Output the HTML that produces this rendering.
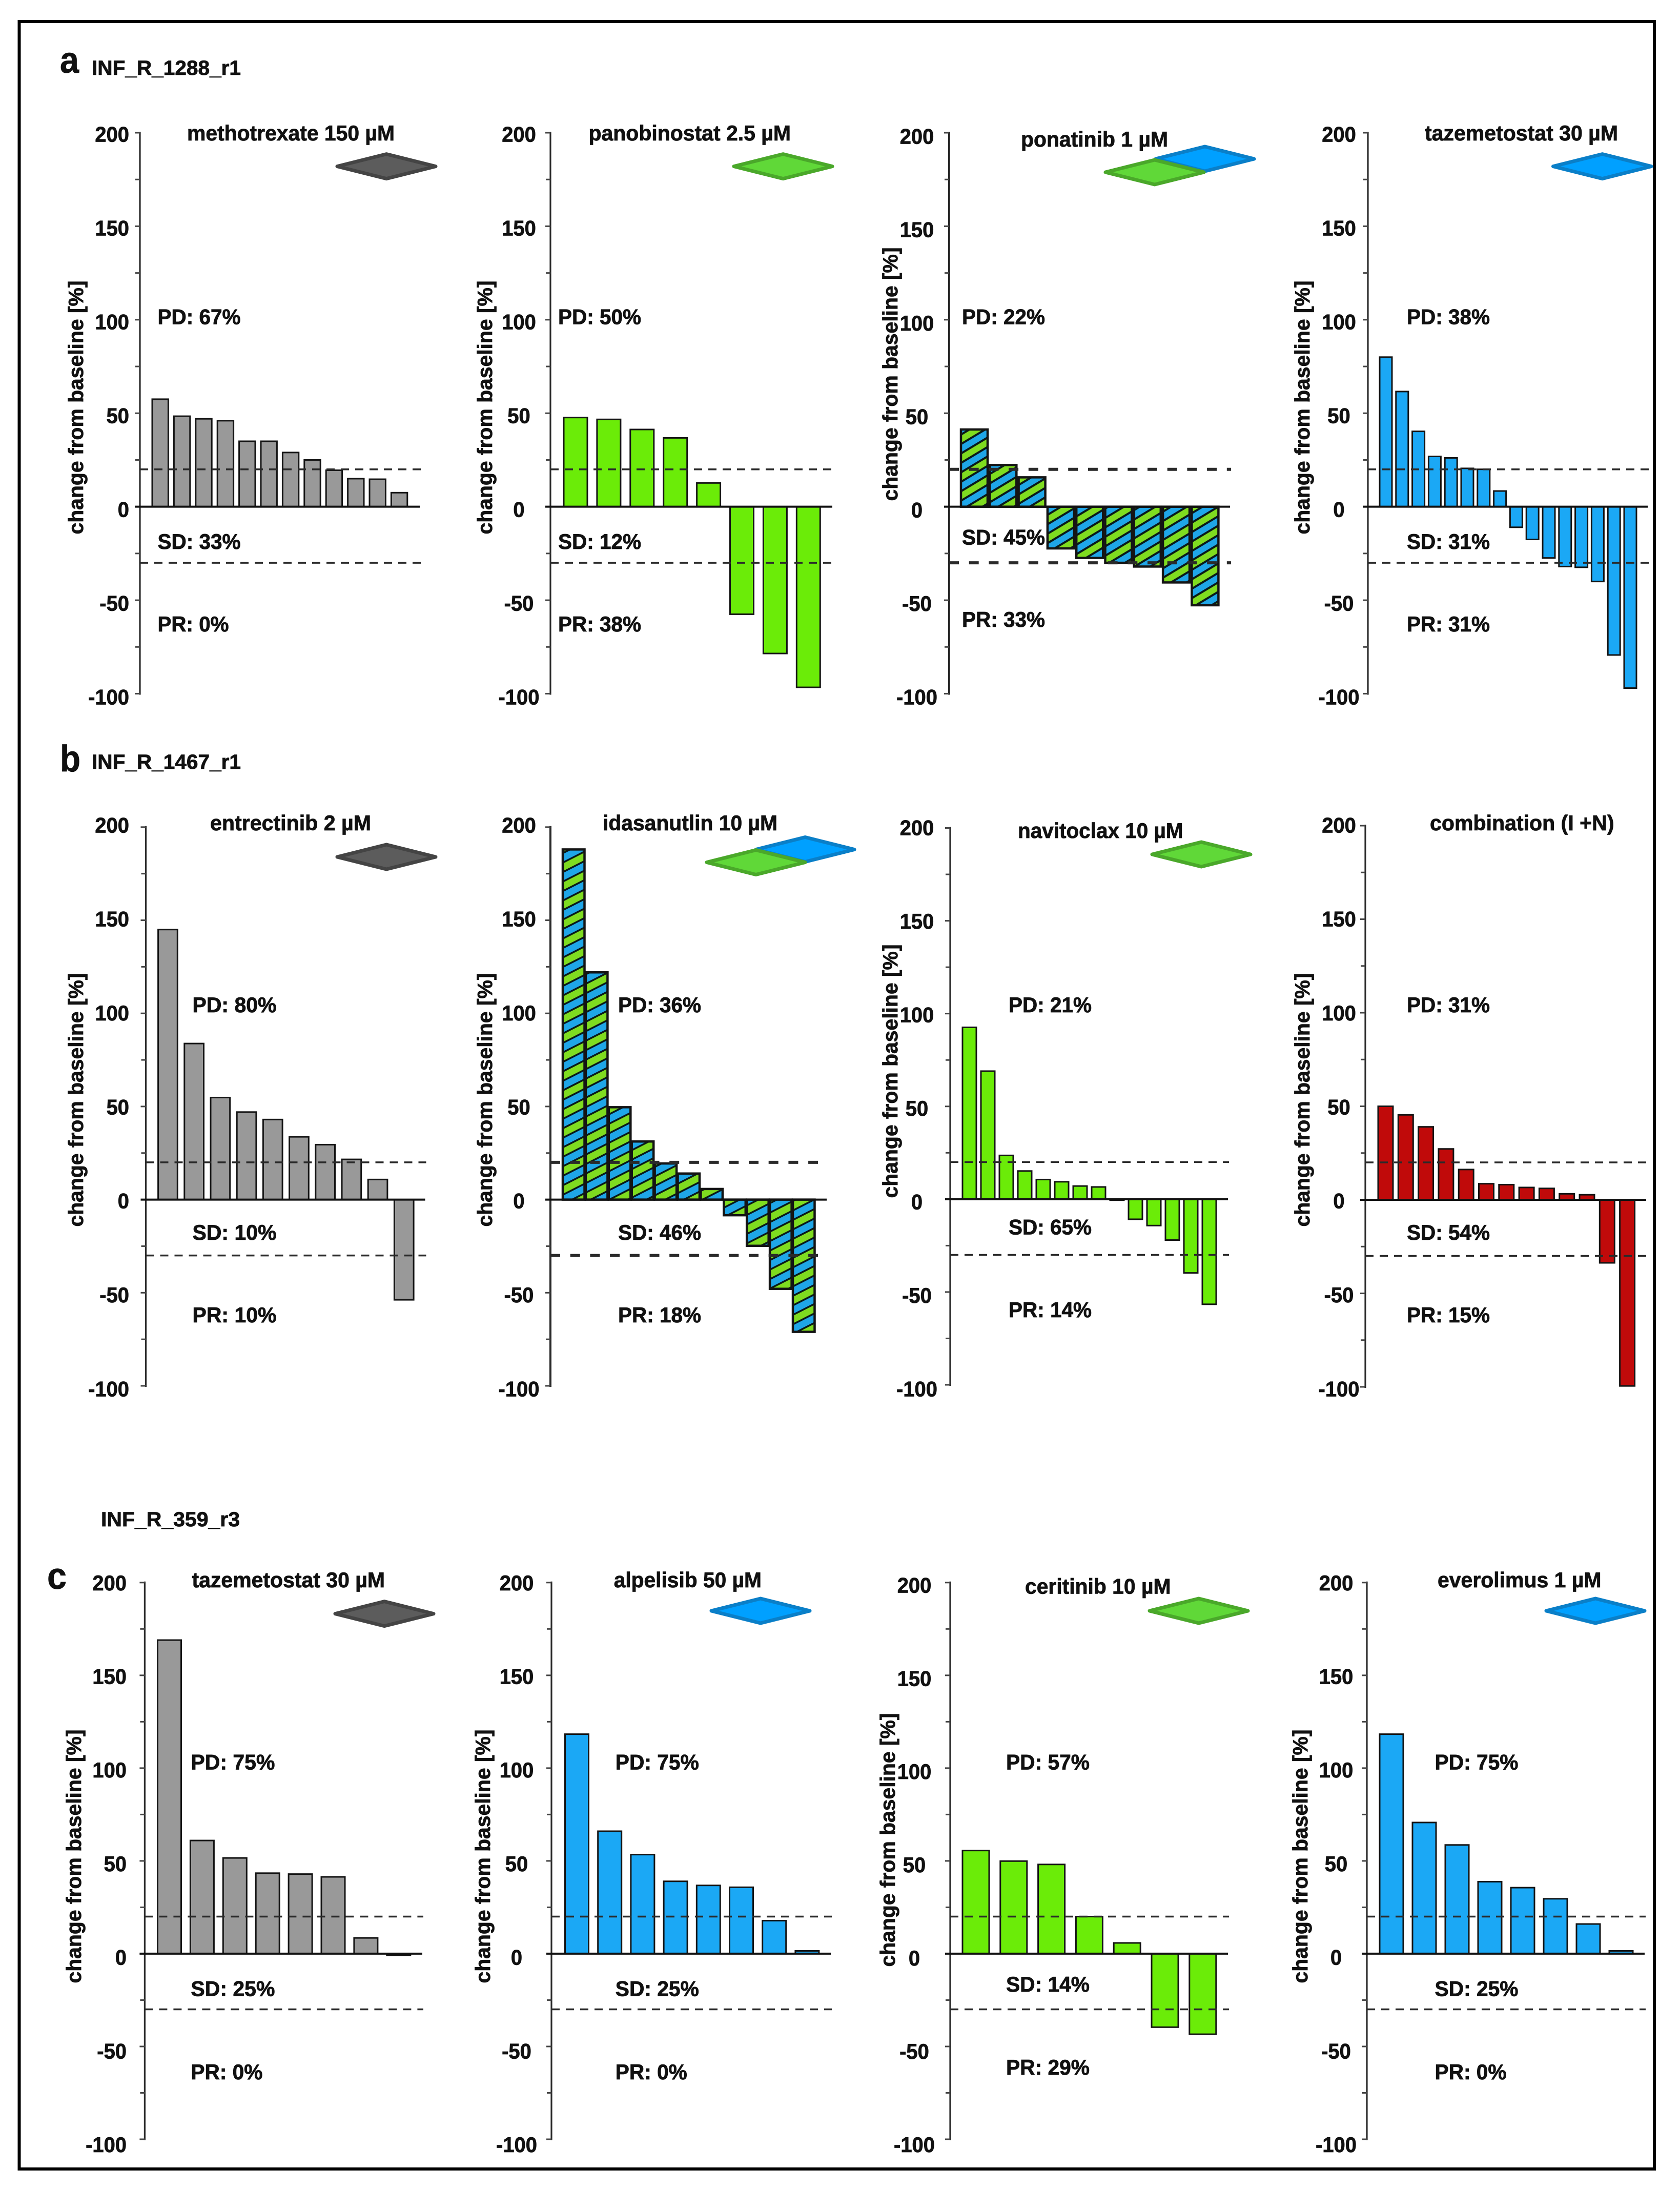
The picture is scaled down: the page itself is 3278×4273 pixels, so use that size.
<!DOCTYPE html>
<html lang="en">
<head>
<meta charset="utf-8">
<title>Change from baseline waterfall plots</title>
<style>
html,body{margin:0;padding:0;background:#fff}
svg{display:block}
text{font-family:"Liberation Sans",Arial,sans-serif;font-weight:bold;fill:#111;stroke:#111;stroke-width:.8px}
.t{font-size:42px}
.y{font-size:41px}
</style>
</head>
<body>
<svg id="figure" xmlns="http://www.w3.org/2000/svg" width="3278" height="4273" viewBox="0 0 3278 4273">
<defs>
<pattern id="hatch-wide" width="31.6" height="31.6" patternUnits="userSpaceOnUse" patternTransform="rotate(-31)">
<rect width="31.6" height="15.8" fill="#1fa6e8"/><rect y="15.8" width="31.6" height="15.8" fill="#7fdc20"/>
<rect y="0" width="31.6" height="4" fill="#0a1a1a"/><rect y="15.8" width="31.6" height="4" fill="#0a1a1a"/>
</pattern>
<pattern id="hatch-narrow" width="33" height="33" patternUnits="userSpaceOnUse" patternTransform="rotate(-27)">
<rect width="33" height="16.5" fill="#1fa6e8"/><rect y="16.5" width="33" height="16.5" fill="#7fdc20"/>
<rect y="0" width="33" height="3.5" fill="#0a1a1a"/><rect y="16.5" width="33" height="3.5" fill="#0a1a1a"/>
</pattern>
</defs>
<rect width="3278" height="4273" fill="#fff"/>
<rect x="37.5" y="42" width="3190.5" height="4190" fill="none" stroke="#000" stroke-width="6"/>

<text x="117" y="142" style="font-size:72px" textLength="37" lengthAdjust="spacingAndGlyphs">a</text>
<text class="t" x="179" y="146" style="font-size:40px" textLength="291" lengthAdjust="spacingAndGlyphs">INF_R_1288_r1</text>
<text x="117" y="1505" style="font-size:72px" textLength="40" lengthAdjust="spacingAndGlyphs">b</text>
<text class="t" x="179" y="1500" style="font-size:40px" textLength="291" lengthAdjust="spacingAndGlyphs">INF_R_1467_r1</text>
<text x="92" y="3100" style="font-size:72px" textLength="38" lengthAdjust="spacingAndGlyphs">c</text>
<text class="t" x="197" y="2978" style="font-size:40px" textLength="271" lengthAdjust="spacingAndGlyphs">INF_R_359_r3</text>

<!-- Row a -->
<g id="panel-a1">
<text class="t" x="365" y="274" textLength="405" lengthAdjust="spacingAndGlyphs">methotrexate 150 µM</text>
<text class="y" transform="translate(162,795) rotate(-90)" text-anchor="middle" textLength="495" lengthAdjust="spacingAndGlyphs">change from baseline [%]</text>
<text class="t" x="307.5" y="632.5" textLength="162" lengthAdjust="spacingAndGlyphs">PD: 67%</text>
<text class="t" x="307.5" y="1071" textLength="162" lengthAdjust="spacingAndGlyphs">SD: 33%</text>
<text class="t" x="307.5" y="1232" textLength="139" lengthAdjust="spacingAndGlyphs">PR: 0%</text>
<polygon points="658,324.6 754,300.6 850,324.6 754,348.6" fill="#5c5c5c" stroke="#444" stroke-width="7" stroke-linejoin="round"/>
</g>
<g id="panel-a2">
<text class="t" x="1148.5" y="274" textLength="394.5" lengthAdjust="spacingAndGlyphs">panobinostat 2.5 µM</text>
<text class="y" transform="translate(960,795) rotate(-90)" text-anchor="middle" textLength="495" lengthAdjust="spacingAndGlyphs">change from baseline [%]</text>
<text class="t" x="1089" y="632.5" textLength="162" lengthAdjust="spacingAndGlyphs">PD: 50%</text>
<text class="t" x="1089" y="1071" textLength="162" lengthAdjust="spacingAndGlyphs">SD: 12%</text>
<text class="t" x="1089" y="1232" textLength="162" lengthAdjust="spacingAndGlyphs">PR: 38%</text>
<polygon points="1432,324.6 1528,300.6 1624,324.6 1528,348.6" fill="#60d838" stroke="#4aa82a" stroke-width="7" stroke-linejoin="round"/>
</g>
<g id="panel-a3">
<text class="t" x="1992" y="286" textLength="287" lengthAdjust="spacingAndGlyphs">ponatinib 1 µM</text>
<text class="y" transform="translate(1751,730) rotate(-90)" text-anchor="middle" textLength="495" lengthAdjust="spacingAndGlyphs">change from baseline [%]</text>
<text class="t" x="1877" y="632.5" textLength="162" lengthAdjust="spacingAndGlyphs">PD: 22%</text>
<text class="t" x="1877" y="1062.5" textLength="162" lengthAdjust="spacingAndGlyphs">SD: 45%</text>
<text class="t" x="1877" y="1223" textLength="162" lengthAdjust="spacingAndGlyphs">PR: 33%</text>
<polygon points="2255,310 2351,286 2447,310 2351,334" fill="#00a0ff" stroke="#0a7fc8" stroke-width="7" stroke-linejoin="round"/>
<polygon points="2157,336 2253,312 2349,336 2253,360" fill="#60d838" stroke="#4aa82a" stroke-width="7" stroke-linejoin="round"/>
</g>
<g id="panel-a4">
<text class="t" x="2780" y="274" textLength="377" lengthAdjust="spacingAndGlyphs">tazemetostat 30 µM</text>
<text class="y" transform="translate(2555,795) rotate(-90)" text-anchor="middle" textLength="495" lengthAdjust="spacingAndGlyphs">change from baseline [%]</text>
<text class="t" x="2745" y="632.5" textLength="162" lengthAdjust="spacingAndGlyphs">PD: 38%</text>
<text class="t" x="2745" y="1071" textLength="162" lengthAdjust="spacingAndGlyphs">SD: 31%</text>
<text class="t" x="2745" y="1232" textLength="162" lengthAdjust="spacingAndGlyphs">PR: 31%</text>
<polygon points="3030.5,324.6 3126.5,300.6 3222,324.6 3126.5,348.6" fill="#00a0ff" stroke="#0a7fc8" stroke-width="7" stroke-linejoin="round"/>
</g>

<!-- Row b -->
<g id="panel-b1">
<text class="t" x="410" y="1620" textLength="314" lengthAdjust="spacingAndGlyphs">entrectinib 2 µM</text>
<text class="y" transform="translate(162,2146) rotate(-90)" text-anchor="middle" textLength="495" lengthAdjust="spacingAndGlyphs">change from baseline [%]</text>
<text class="t" x="375.5" y="1975" textLength="164" lengthAdjust="spacingAndGlyphs">PD: 80%</text>
<text class="t" x="375.5" y="2419" textLength="164" lengthAdjust="spacingAndGlyphs">SD: 10%</text>
<text class="t" x="375.5" y="2580" textLength="164" lengthAdjust="spacingAndGlyphs">PR: 10%</text>
<polygon points="658,1672 754,1648 850,1672 754,1696" fill="#5c5c5c" stroke="#444" stroke-width="7" stroke-linejoin="round"/>
</g>
<g id="panel-b2">
<text class="t" x="1176" y="1620" textLength="341" lengthAdjust="spacingAndGlyphs">idasanutlin 10 µM</text>
<text class="y" transform="translate(960,2146) rotate(-90)" text-anchor="middle" textLength="495" lengthAdjust="spacingAndGlyphs">change from baseline [%]</text>
<text class="t" x="1206" y="1975" textLength="162" lengthAdjust="spacingAndGlyphs">PD: 36%</text>
<text class="t" x="1206" y="2419" textLength="162" lengthAdjust="spacingAndGlyphs">SD: 46%</text>
<text class="t" x="1206" y="2580" textLength="162" lengthAdjust="spacingAndGlyphs">PR: 18%</text>
<polygon points="1475,1657.5 1571,1633.5 1667,1657.5 1571,1681.5" fill="#00a0ff" stroke="#0a7fc8" stroke-width="7" stroke-linejoin="round"/>
<polygon points="1379,1682.5 1475,1658.5 1571,1682.5 1475,1706.5" fill="#60d838" stroke="#4aa82a" stroke-width="7" stroke-linejoin="round"/>
</g>
<g id="panel-b3">
<text class="t" x="1986" y="1635" textLength="322.5" lengthAdjust="spacingAndGlyphs">navitoclax 10 µM</text>
<text class="y" transform="translate(1751,2090) rotate(-90)" text-anchor="middle" textLength="495" lengthAdjust="spacingAndGlyphs">change from baseline [%]</text>
<text class="t" x="1968" y="1975" textLength="162" lengthAdjust="spacingAndGlyphs">PD: 21%</text>
<text class="t" x="1968" y="2408.5" textLength="162" lengthAdjust="spacingAndGlyphs">SD: 65%</text>
<text class="t" x="1968" y="2570" textLength="162" lengthAdjust="spacingAndGlyphs">PR: 14%</text>
<polygon points="2248,1667 2344,1643 2440,1667 2344,1691" fill="#60d838" stroke="#4aa82a" stroke-width="7" stroke-linejoin="round"/>
</g>
<g id="panel-b4">
<text class="t" x="2790" y="1620" textLength="359.5" lengthAdjust="spacingAndGlyphs">combination (I +N)</text>
<text class="y" transform="translate(2555,2146) rotate(-90)" text-anchor="middle" textLength="495" lengthAdjust="spacingAndGlyphs">change from baseline [%]</text>
<text class="t" x="2745" y="1975" textLength="162" lengthAdjust="spacingAndGlyphs">PD: 31%</text>
<text class="t" x="2745" y="2419" textLength="162" lengthAdjust="spacingAndGlyphs">SD: 54%</text>
<text class="t" x="2745" y="2580" textLength="162" lengthAdjust="spacingAndGlyphs">PR: 15%</text>
</g>

<!-- Row c -->
<g id="panel-c1">
<text class="t" x="374.5" y="3097" textLength="376.5" lengthAdjust="spacingAndGlyphs">tazemetostat 30 µM</text>
<text class="y" transform="translate(158,3622) rotate(-90)" text-anchor="middle" textLength="495" lengthAdjust="spacingAndGlyphs">change from baseline [%]</text>
<text class="t" x="372.4" y="3452.6" textLength="164" lengthAdjust="spacingAndGlyphs">PD: 75%</text>
<text class="t" x="372.4" y="3894.5" textLength="164" lengthAdjust="spacingAndGlyphs">SD: 25%</text>
<text class="t" x="372.4" y="4057" textLength="140" lengthAdjust="spacingAndGlyphs">PR: 0%</text>
<polygon points="654,3148.6 750,3124.6 846,3148.6 750,3172.6" fill="#5c5c5c" stroke="#444" stroke-width="7" stroke-linejoin="round"/>
</g>
<g id="panel-c2">
<text class="t" x="1197.7" y="3097" textLength="288.3" lengthAdjust="spacingAndGlyphs">alpelisib 50 µM</text>
<text class="y" transform="translate(956,3622) rotate(-90)" text-anchor="middle" textLength="495" lengthAdjust="spacingAndGlyphs">change from baseline [%]</text>
<text class="t" x="1200.8" y="3452.6" textLength="163" lengthAdjust="spacingAndGlyphs">PD: 75%</text>
<text class="t" x="1200.8" y="3894.5" textLength="163" lengthAdjust="spacingAndGlyphs">SD: 25%</text>
<text class="t" x="1200.8" y="4057" textLength="140" lengthAdjust="spacingAndGlyphs">PR: 0%</text>
<polygon points="1388,3143 1484,3119 1580,3143 1484,3167" fill="#00a0ff" stroke="#0a7fc8" stroke-width="7" stroke-linejoin="round"/>
</g>
<g id="panel-c3">
<text class="t" x="2000" y="3109.5" textLength="284.5" lengthAdjust="spacingAndGlyphs">ceritinib 10 µM</text>
<text class="y" transform="translate(1746,3590) rotate(-90)" text-anchor="middle" textLength="495" lengthAdjust="spacingAndGlyphs">change from baseline [%]</text>
<text class="t" x="1963" y="3452.6" textLength="163" lengthAdjust="spacingAndGlyphs">PD: 57%</text>
<text class="t" x="1963" y="3886" textLength="163" lengthAdjust="spacingAndGlyphs">SD: 14%</text>
<text class="t" x="1963" y="4048" textLength="163" lengthAdjust="spacingAndGlyphs">PR: 29%</text>
<polygon points="2243,3143 2339,3119 2435,3143 2339,3167" fill="#60d838" stroke="#4aa82a" stroke-width="7" stroke-linejoin="round"/>
</g>
<g id="panel-c4">
<text class="t" x="2805" y="3097" textLength="319.5" lengthAdjust="spacingAndGlyphs">everolimus 1 µM</text>
<text class="y" transform="translate(2551,3622) rotate(-90)" text-anchor="middle" textLength="495" lengthAdjust="spacingAndGlyphs">change from baseline [%]</text>
<text class="t" x="2799.5" y="3452.6" textLength="163" lengthAdjust="spacingAndGlyphs">PD: 75%</text>
<text class="t" x="2799.5" y="3894.5" textLength="163" lengthAdjust="spacingAndGlyphs">SD: 25%</text>
<text class="t" x="2799.5" y="4057" textLength="140" lengthAdjust="spacingAndGlyphs">PR: 0%</text>
<polygon points="3017,3143 3113,3119 3209,3143 3113,3167" fill="#00a0ff" stroke="#0a7fc8" stroke-width="7" stroke-linejoin="round"/>
</g>
</svg>

<script>
// Axis content
const tickLabels = [200, 150, 100, 50, 0, -50, -100];
const minorTickValues = [175, 125, 75, 25, -25, -75];
const pdThreshold = 20;
const prThreshold = -30;

// Per-panel bar values (% change from baseline)
const valuesMethotrexate = [57.5, 48.4, 47, 46, 35, 35, 29, 25, 19.5, 15, 14.7, 7.5];
const valuesPanobinostat = [47.7, 46.7, 41.3, 36.8, 12.7, -57.5, -78.5, -96.6];
const valuesPonatinib = [41.3, 22.3, 15.7, -22.3, -27.4, -30, -32, -40.5, -52.7];
const valuesTazemetostatA = [80, 61.6, 40.3, 26.9, 26.1, 20.5, 20, 8.4, -11, -17.5, -27.4, -32, -32.4, -40, -79.3, -97];
const valuesEntrectinib = [145, 83.8, 54.8, 47, 43, 33.7, 29.5, 21.6, 10.8, -53.8];
const valuesIdasanutlin = [188, 122, 49.6, 31.2, 19.4, 14, 5.7, -8.4, -24.8, -47.9, -71];
const valuesNavitoclax = [92.6, 69, 23.6, 15.2, 10.6, 9.4, 7.1, 6.6, -0.5, -10.8, -14.2, -22, -39.7, -56.6];
const valuesCombination = [50, 45.4, 39, 27.2, 16.2, 8.6, 8.1, 6.6, 6.1, 3.2, 2.7, -33.7, -99.5];
const valuesTazemetostatC = [169, 61, 51.6, 43.4, 42.9, 41.4, 8.5, -0.8];
const valuesAlpelisib = [118.3, 66, 53.4, 39, 36.8, 35.8, 17.8, 1.5];
const valuesCeritinib = [55.6, 49.9, 48.1, 20, 5.8, -39.6, -43.4];
const valuesEverolimus = [118.3, 70.7, 58.6, 38.8, 35.6, 29.6, 16, 1.5];

const SVGNS = 'http://www.w3.org/2000/svg';

function drawPanel(panelId, values, o) {
  const g = document.getElementById(panelId);
  const yScale = function (v) { return o.top + (200 - v) * (o.bottom - o.top) / 300; };
  const labelY = function (v) { return o.labelTop + (200 - v) * (o.labelBottom - o.labelTop) / 300 + 15; };
  const xBand = function (i) { return o.barStart + i * o.pitch; };
  const y0 = yScale(0);

  // axis spine
  const spine = document.createElementNS(SVGNS, 'line');
  
  
  spine.setAttribute('x1', o.axisX);
  spine.setAttribute('x2', o.axisX);
  spine.setAttribute('y1', yScale(200) - 2);
  spine.setAttribute('y2', yScale(-100) + 2);
  spine.setAttribute('stroke', '#2a2a2a');
  spine.setAttribute('stroke-width', o.thickDash ? '4' : '3.2');
  g.appendChild(spine);

  // major ticks and labels
  tickLabels.forEach(function (t) {
    const tick = document.createElementNS(SVGNS, 'line');
    
    
    tick.setAttribute('x1', o.axisX - 10);
    tick.setAttribute('x2', o.axisX);
    tick.setAttribute('y1', yScale(t));
    tick.setAttribute('y2', yScale(t));
    tick.setAttribute('stroke', '#444');
    tick.setAttribute('stroke-width', '3');
    g.appendChild(tick);

    const label = document.createElementNS(SVGNS, 'text');
    
    
    label.setAttribute('class', 't');
    label.setAttribute('x', o.labelX);
    label.setAttribute('y', labelY(t));
    label.setAttribute('text-anchor', o.labelAnchor);
    label.textContent = String(t);
    g.appendChild(label);
    label.setAttribute('textLength', (label.getComputedTextLength() * 0.95).toFixed(1));
    label.setAttribute('lengthAdjust', 'spacingAndGlyphs');
  });

  // minor ticks
  minorTickValues.forEach(function (t) {
    const minor = document.createElementNS(SVGNS, 'line');
    
    
    minor.setAttribute('x1', o.axisX - 9);
    minor.setAttribute('x2', o.axisX);
    minor.setAttribute('y1', yScale(t));
    minor.setAttribute('y2', yScale(t));
    minor.setAttribute('stroke', '#444');
    minor.setAttribute('stroke-width', '3');
    g.appendChild(minor);
  });

  // bars
  values.forEach(function (v, i) {
    const bar = document.createElementNS(SVGNS, 'rect');
    
    
    const yv = yScale(v);
    bar.setAttribute('x', xBand(i));
    bar.setAttribute('y', Math.min(yv, y0));
    bar.setAttribute('width', o.barWidth);
    bar.setAttribute('height', Math.abs(yv - y0));
    bar.setAttribute('fill', o.fill);
    bar.setAttribute('stroke', '#141414');
    bar.setAttribute('stroke-width', o.thickDash ? '4.5' : '3');
    g.appendChild(bar);
  });

  // thresholds
  [pdThreshold, prThreshold].forEach(function (level) {
    const dash = document.createElementNS(SVGNS, 'line');
    
    
    dash.setAttribute('x1', o.axisX);
    dash.setAttribute('x2', o.zeroEnd + 2);
    dash.setAttribute('y1', yScale(level));
    dash.setAttribute('y2', yScale(level));
    dash.setAttribute('stroke', '#2a2a2a');
    dash.setAttribute('stroke-width', o.thickDash ? '6' : '3.5');
    dash.setAttribute('stroke-dasharray', o.thickDash ? '19 19.7' : '16 12');
    g.appendChild(dash);
  });

  // zero baseline
  const zero = document.createElementNS(SVGNS, 'line');
  
  
  zero.setAttribute('x1', o.axisX - 10);
  zero.setAttribute('x2', o.zeroEnd);
  zero.setAttribute('y1', y0);
  zero.setAttribute('y2', y0);
  zero.setAttribute('stroke', '#111');
  zero.setAttribute('stroke-width', '4');
  g.appendChild(zero);
}

const GRAY = '#999999', GREEN = '#6bec08', BLUE = '#1ba8f5', RED = '#c00a0a';

const rowA = { top: 259, bottom: 1353.5, labelTop: 261.7, labelBottom: 1359.3 };
const rowB = { top: 1613.8, bottom: 2704, labelTop: 1609.3, labelBottom: 2709.4 };
const rowC = { top: 3087.8, bottom: 4174, labelTop: 3087.8, labelBottom: 4184 };

drawPanel('panel-a1', valuesMethotrexate, Object.assign({}, rowA, { axisX: 273, zeroEnd: 819, barStart: 297, barWidth: 31.4, pitch: 42.4, fill: GRAY, labelX: 252, labelAnchor: 'end' }));
drawPanel('panel-a2', valuesPanobinostat, Object.assign({}, rowA, { axisX: 1074, zeroEnd: 1624, barStart: 1100, barWidth: 46, pitch: 64.9, fill: GREEN, labelX: 1012.5, labelAnchor: 'middle' }));
drawPanel('panel-a3', valuesPonatinib, Object.assign({}, rowA, { axisX: 1852, zeroEnd: 2400, barStart: 1875, barWidth: 52, pitch: 56.3, fill: 'url(#hatch-wide)', labelX: 1789, labelAnchor: 'middle', labelTop: 265.4, thickDash: true }));
drawPanel('panel-a4', valuesTazemetostatA, Object.assign({}, rowA, { axisX: 2669, zeroEnd: 3215, barStart: 2692, barWidth: 24, pitch: 31.8, fill: BLUE, labelX: 2612.5, labelAnchor: 'middle' }));

drawPanel('panel-b1', valuesEntrectinib, Object.assign({}, rowB, { axisX: 284.5, zeroEnd: 829.5, barStart: 308.6, barWidth: 37.7, pitch: 51.2, fill: GRAY, labelX: 252, labelAnchor: 'end' }));
drawPanel('panel-b2', valuesIdasanutlin, Object.assign({}, rowB, { axisX: 1074, zeroEnd: 1613, barStart: 1098, barWidth: 42.5, pitch: 44.9, fill: 'url(#hatch-narrow)', labelX: 1012.5, labelAnchor: 'middle', thickDash: true }));
drawPanel('panel-b3', valuesNavitoclax, Object.assign({}, rowB, { top: 1615.5, bottom: 2702, axisX: 1854, zeroEnd: 2396, barStart: 1878, barWidth: 27, pitch: 36, fill: GREEN, labelX: 1789, labelAnchor: 'middle', labelTop: 1614.7 }));
drawPanel('panel-b4', valuesCombination, Object.assign({}, rowB, { top: 1611, bottom: 2706, axisX: 2664, zeroEnd: 3212, barStart: 2689, barWidth: 29, pitch: 39.3, fill: RED, labelX: 2612.5, labelAnchor: 'middle' }));

drawPanel('panel-c1', valuesTazemetostatC, Object.assign({}, rowC, { axisX: 282.4, zeroEnd: 824, barStart: 307.5, barWidth: 46, pitch: 63.9, fill: GRAY, labelX: 247, labelAnchor: 'end' }));
drawPanel('panel-c2', valuesAlpelisib, Object.assign({}, rowC, { axisX: 1076, zeroEnd: 1621, barStart: 1102.5, barWidth: 46, pitch: 64.2, fill: BLUE, labelX: 1008, labelAnchor: 'middle' }));
drawPanel('panel-c3', valuesCeritinib, Object.assign({}, rowC, { axisX: 1854, zeroEnd: 2396, barStart: 1878, barWidth: 52, pitch: 73.8, fill: GREEN, labelX: 1784, labelAnchor: 'middle', labelTop: 3092.3 }));
drawPanel('panel-c4', valuesEverolimus, Object.assign({}, rowC, { axisX: 2667, zeroEnd: 3209, barStart: 2692, barWidth: 46, pitch: 64, fill: BLUE, labelX: 2607, labelAnchor: 'middle' }));
</script>
</body>
</html>
